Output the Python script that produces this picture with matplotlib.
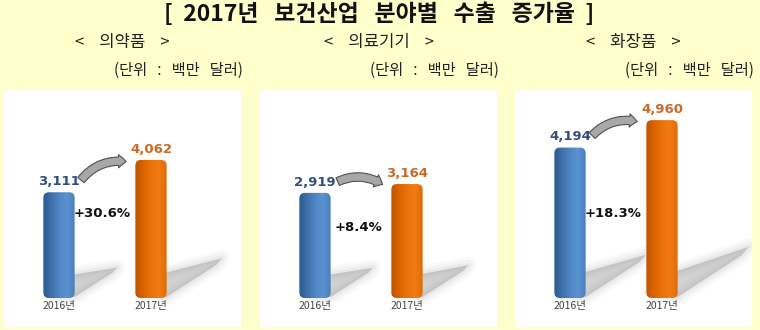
import numpy as np
import matplotlib.pyplot as plt
from matplotlib.patches import FancyBboxPatch, FancyArrowPatch, Polygon
from matplotlib.colors import LinearSegmentedColormap
from matplotlib.transforms import IdentityTransform

plt.rcParams['font.family'] = ['Noto Sans CJK KR', 'DejaVu Sans']

# 데이터
title = '[  2017년   보건산업   분야별   수출   증가율  ]'
sectors = ['의약품', '의료기기', '화장품']
years = ['2016년', '2017년']
exports_2016 = [3111, 2919, 4194]
exports_2017 = [4062, 3164, 4960]
unit = '(단위   :   백만   달러)'

W, H = 760, 330
fig = plt.figure(figsize=(W / 100, H / 100), dpi=100, facecolor='#FFFFCC')


def fx(px):
    return px / W


def fy(py):
    return 1 - py / H


fig.text(fx(379), fy(14), title, ha='center', va='center',
         fontsize=16.5, fontweight='bold', color='#111111')

# 패널 배치 (픽셀)
panel_left = [4, 260, 515]
panel_w, panel_top, panel_bot = 237, 90, 327
ymax = [6120, 5775, 5800]
pct_y = [0.48, 0.42, 0.48]

blue_cm = LinearSegmentedColormap.from_list('b', ['#2C5A8E', '#3F70AA', '#4F85C2', '#5A92D0', '#4A80BE'])
orange_cm = LinearSegmentedColormap.from_list('o', ['#BF5400', '#D96400', '#EC7208', '#F27C14', '#E06A05'])
grad = np.linspace(0, 1, 64).reshape(1, -1)

for i in range(3):
    left = panel_left[i]
    ax = fig.add_axes([fx(left), fy(panel_bot), panel_w / W, (panel_bot - panel_top) / H])
    ax.set_facecolor('white')
    for s in ax.spines.values():
        s.set_visible(False)
    ax.set_xticks([])
    ax.set_yticks([])
    ax.set_xlim(-55 / 92, (panel_w - 55) / 92)
    ax.set_ylim(-ymax[i] * 29 / 208, ymax[i])

    # 소제목, 단위
    fig.text(fx(left + panel_w / 2), fy(43), f'<    {sectors[i]}    >', ha='center', va='center',
             fontsize=12, color='#222222')
    fig.text(fx(left + panel_w + 2), fy(70), unit, ha='right', va='center',
             fontsize=11, color='#222222')

    vals = [exports_2016[i], exports_2017[i]]
    bars = ax.bar([0, 1], vals, width=0.34)
    px_per_y = (panel_bot - panel_top) / (ymax[i] * (1 + 29 / 208))
    aspect = 92 / px_per_y

    for j, b in enumerate(bars):
        b.set_visible(False)
        x0, w, h = b.get_x(), b.get_width(), b.get_height()

        # 그림자
        (dx0, base) = ax.transData.transform((x0, 0))
        (dx1, _) = ax.transData.transform((x0 + w, 0))
        L = 0.4 * h * px_per_y
        pts = [(dx0 + 10, base + 2), (dx0 + 10, base + 20),
               (dx1 + L, base + 0.72 * L), (dx1 + 0.9 * L, base + 0.6 * L), (dx1, base + 1)]
        for lw, a in [(12, 0.035), (8, 0.05), (4, 0.07), (0, 0.2)]:
            sh = Polygon(pts, closed=True, transform=IdentityTransform(), facecolor='#7A7A7A',
                         edgecolor='#7A7A7A', lw=lw, alpha=a, joinstyle='round', zorder=1)
            ax.add_artist(sh)

        patch = FancyBboxPatch((x0, 0), w, h, boxstyle='round,pad=0,rounding_size=0.06',
                               mutation_aspect=aspect, facecolor='none', edgecolor='none', zorder=3)
        ax.add_patch(patch)
        im = ax.imshow(grad, extent=(x0, x0 + w, 0, h), cmap=blue_cm if j == 0 else orange_cm,
                       aspect='auto', zorder=2, interpolation='bilinear')
        im.set_clip_path(patch)

        # 값 라벨
        ax.annotate(f'{vals[j]:,}', (j, h), xytext=(0, 3), textcoords='offset points',
                    ha='center', va='bottom', fontsize=9.5, fontweight='bold', family='DejaVu Sans',
                    color='#2F4F80' if j == 0 else '#C86A28')
        # 연도 라벨
        ax.annotate(years[j], (j, 0), xytext=(0, -2.5), textcoords='offset points',
                    ha='center', va='top', fontsize=7.5, color='#444444')

    ax.set_xlim(-55 / 92, (panel_w - 55) / 92)
    ax.set_ylim(-ymax[i] * 29 / 208, ymax[i])

    # 증가율
    pct = (vals[1] / vals[0] - 1) * 100
    ax.text(0.47, pct_y[i], f'+{pct:.1f}%', transform=ax.get_xaxis_transform(),
            ha='center', va='center', fontsize=9.5, fontweight='bold', family='DejaVu Sans',
            color='#111111')

    # 화살표
    ax0, ay0 = ax.transData.transform((0.22, vals[0]))
    ax1, ay1 = ax.transData.transform((0.76, vals[1]))
    arr = FancyArrowPatch((ax0, ay0 + 10), (ax1, ay1 - 2), transform=IdentityTransform(),
                          connectionstyle='arc3,rad=-0.3',
                          arrowstyle='simple,head_length=0.55,head_width=0.95,tail_width=0.6',
                          mutation_scale=10, facecolor='#A8A8A8', edgecolor='#505050', lw=0.8,
                          zorder=4, clip_on=False)
    ax.add_artist(arr)

fig.savefig('out.png', dpi=100, facecolor=fig.get_facecolor())
